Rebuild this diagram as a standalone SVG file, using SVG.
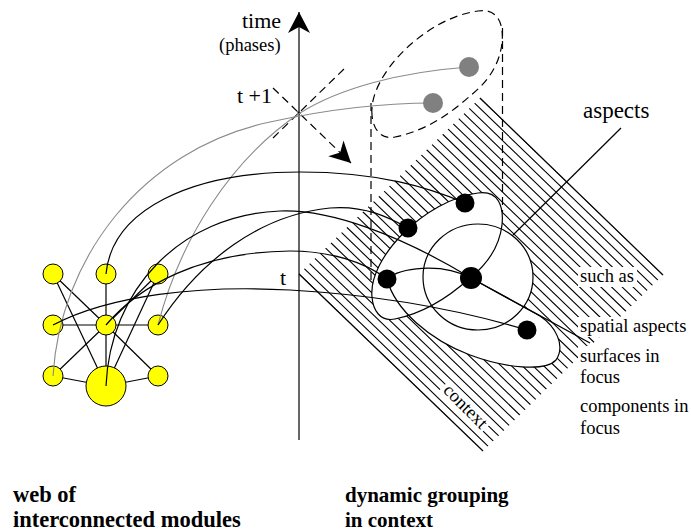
<svg xmlns="http://www.w3.org/2000/svg" width="691" height="531" viewBox="0 0 691 531" font-family="'Liberation Serif', 'Times New Roman', 'DejaVu Serif', serif">
<defs>
<style>
.ln{fill:none;stroke:#000;stroke-width:1.2}
.gr{fill:none;stroke:#8a8a8a;stroke-width:1.1}
.dash{fill:none;stroke:#000;stroke-width:1.2;stroke-dasharray:8 5}
.yn{fill:#ffff00;stroke:#000;stroke-width:1}
.bd{fill:#000}
.gd{fill:#808080}
.wf{fill:#fff;stroke:none}
.sf{fill:none;stroke:#000;stroke-width:1.2}
.hatch{fill:none;stroke:#000;stroke-width:1.1}
</style>
<clipPath id="sq"><polygon points="299,274 480,98 663,275 483,451"/></clipPath>
<marker id="ah" markerUnits="userSpaceOnUse" viewBox="-22 -12 23 24" markerWidth="23" markerHeight="24" refX="0" refY="0" orient="auto">
<path d="M0,0 L-21,-11 L-15,0 L-21,11 Z" fill="#000"/>
</marker>
<path id="blobA" d="M372,297 C368,258 425,200 478,193 C498,190 504,206 502,225 C499,250 485,266 470,278 C450,296 425,313 395,319 C380,322 373,310 372,297 Z"/>
<path id="blobC" d="M387,279 C400,268 440,262 471,278 L540,316 C555,326 566,345 556,360 C545,372 505,368 470,355 C430,340 395,310 387,279 Z"/>
<ellipse id="asp" cx="478" cy="277" rx="55" ry="53"/>
</defs>

<g id="context-plane">
<path class="hatch" clip-path="url(#sq)" d="M472.8,91.1L674.2,285.6M467.6,96.4L669.0,290.9M462.5,101.8L663.9,296.3M457.3,107.1L658.7,301.6M452.2,112.4L653.6,306.9M447.0,117.8L648.4,312.3M441.9,123.1L643.3,317.6M436.7,128.5L638.1,323.0M431.6,133.8L633.0,328.3M426.4,139.1L627.8,333.6M421.2,144.5L622.7,339.0M416.1,149.8L617.5,344.3M410.9,155.1L612.3,349.6M405.8,160.5L607.2,355.0M400.6,165.8L602.0,360.3M395.5,171.2L596.9,365.7M390.3,176.5L591.7,371.0M385.2,181.8L586.6,376.3M380.0,187.2L581.4,381.7M374.9,192.5L576.3,387.0M369.7,197.8L571.1,392.3M364.5,203.2L565.9,397.7M359.4,208.5L560.8,403.0M354.2,213.9L555.6,408.4M349.1,219.2L550.5,413.7M343.9,224.5L545.3,419.0M338.8,229.9L540.2,424.4M333.6,235.2L535.0,429.7M328.5,240.5L529.9,435.0M323.3,245.9L524.7,440.4M318.2,251.2L519.6,445.7M313.0,256.6L514.4,451.1M307.8,261.9L509.2,456.4M302.7,267.2L504.1,461.7M297.5,272.6L498.9,467.0"/>
<line x1="480" y1="98" x2="663" y2="275" stroke="#000" stroke-width="1.2"/>
<line x1="299" y1="274" x2="483" y2="451" stroke="#000" stroke-width="1.2"/>
<g transform="translate(465 407) rotate(45)">
<rect x="-30" y="-9" width="60" height="17" fill="#fff"/>
<text x="0" y="5" text-anchor="middle" font-family="Liberation Serif, serif" font-size="18.5">context</text>
</g>
</g>

<g id="time-axis">
<line x1="299" y1="440" x2="299" y2="12" class="ln" marker-end="url(#ah)"/>
<text x="242" y="28" font-family="Liberation Serif, serif" font-size="22">time</text>
<text x="219" y="51" font-family="Liberation Serif, serif" font-size="18.5">(phases)</text>
<text x="237" y="103" font-family="Liberation Serif, serif" font-size="22">t +1</text>
<text x="280" y="285" font-family="Liberation Serif, serif" font-size="22">t</text>
<line x1="273" y1="138" x2="345" y2="68" class="dash"/>
<line x1="273" y1="88" x2="351" y2="163" class="dash" marker-end="url(#ah)"/>
<circle cx="299" cy="113" r="1.6" class="bd"/>
</g>

<g id="groups">
<use href="#blobA" class="wf"/>
<use href="#asp" class="wf"/>
<use href="#blobC" class="wf"/>
<use href="#blobA" class="sf"/>
<use href="#asp" class="sf"/>
<use href="#blobC" class="sf"/>
<use href="#blobA" class="dash" transform="translate(0 -182)"/>
<line x1="371" y1="103" x2="371" y2="285" class="dash"/>
<line x1="502.5" y1="28" x2="502.5" y2="212" class="dash"/>
</g>

<g id="labels" font-family="Liberation Serif, serif">
<rect x="578" y="267" width="59" height="20" fill="#fff"/>
<rect x="578" y="317" width="112" height="20" fill="#fff"/>
<rect x="578" y="346" width="92" height="21" fill="#fff"/>
<text x="583" y="118" font-size="23">aspects</text>
<text x="580" y="282" font-size="18.5">such as</text>
<text x="580" y="332" font-size="18.5">spatial aspects</text>
<text x="580" y="362" font-size="18.5">surfaces in</text>
<text x="580" y="383" font-size="18.5">focus</text>
<text x="580" y="412" font-size="18.5">components in</text>
<text x="580" y="434" font-size="18.5">focus</text>
<text x="13" y="502" font-size="22.5" font-weight="bold">web of</text>
<text x="13" y="527" font-size="22.5" font-weight="bold">interconnected modules</text>
<text x="345" y="502" font-size="21" font-weight="bold">dynamic grouping</text>
<text x="345" y="527" font-size="21" font-weight="bold">in context</text>
</g>

<g id="web-edges">
<line x1="53" y1="274" x2="106" y2="325" class="ln"/>
<line x1="53" y1="274" x2="106" y2="386" class="ln"/>
<line x1="158" y1="274" x2="106" y2="325" class="ln"/>
<line x1="158" y1="274" x2="106" y2="386" class="ln"/>
<line x1="106" y1="274" x2="106" y2="325" class="ln"/>
<line x1="53" y1="325" x2="158" y2="325" class="ln"/>
<line x1="106" y1="325" x2="53" y2="376" class="ln"/>
<line x1="106" y1="325" x2="158" y2="376" class="ln"/>
<line x1="106" y1="325" x2="106" y2="386" class="ln"/>
<line x1="53" y1="376" x2="106" y2="386" class="ln"/>
<line x1="106" y1="386" x2="158" y2="376" class="ln"/>
</g>

<g id="Y1"><circle cx="53" cy="274" r="10" class="yn"/></g>
<g id="Y2"><circle cx="106" cy="274" r="10" class="yn"/></g>
<g id="Y3"><circle cx="158" cy="274" r="10" class="yn"/></g>
<g id="Y4"><circle cx="53" cy="325" r="10" class="yn"/></g>
<g id="Y5"><circle cx="106" cy="325" r="10" class="yn"/></g>
<g id="Y6"><circle cx="158" cy="325" r="10" class="yn"/></g>
<g id="Y7"><circle cx="53" cy="376" r="10" class="yn"/></g>
<g id="Y8"><circle cx="106" cy="386" r="20" class="yn"/></g>
<g id="Y9"><circle cx="158" cy="376" r="10" class="yn"/></g>

<g id="connectors">
<path d="M53,376 C60,260 140,150 270,122 C320,111 380,103 433,103" class="gr"/>
<path d="M158,325 C180,240 230,160 300,113 C340,88 400,72 469,67" class="gr"/>
<path d="M106,274 C112,210 190,172 300,172 C380,172 430,188 465,203" class="ln"/>
<path d="M158,325 C200,260 260,215 330,208 C365,205 390,218 408,228" class="ln"/>
<path d="M106,386 C110,290 180,215 280,211 C330,209 400,235 471,278" class="ln"/>
<path d="M106,325 C140,285 200,252 290,251 C330,251 365,262 387,279" class="ln"/>
<path d="M53,325 C110,295 200,285 290,290 C380,295 460,310 527,330" class="ln"/>
<line x1="471" y1="278" x2="590" y2="343" class="ln"/>
<line x1="621" y1="128" x2="513" y2="235" class="ln"/>
</g>

<g id="G1"><circle cx="469" cy="67" r="10" class="gd"/></g>
<g id="G2"><circle cx="433" cy="103" r="10" class="gd"/></g>
<g id="D1"><circle cx="465" cy="203" r="9.5" class="bd"/></g>
<g id="D2"><circle cx="408" cy="228" r="9.5" class="bd"/></g>
<g id="D3"><circle cx="387" cy="279" r="9.5" class="bd"/></g>
<g id="D4"><circle cx="471" cy="278" r="11" class="bd"/></g>
<g id="D5"><circle cx="527" cy="330" r="9.5" class="bd"/></g>
</svg>
